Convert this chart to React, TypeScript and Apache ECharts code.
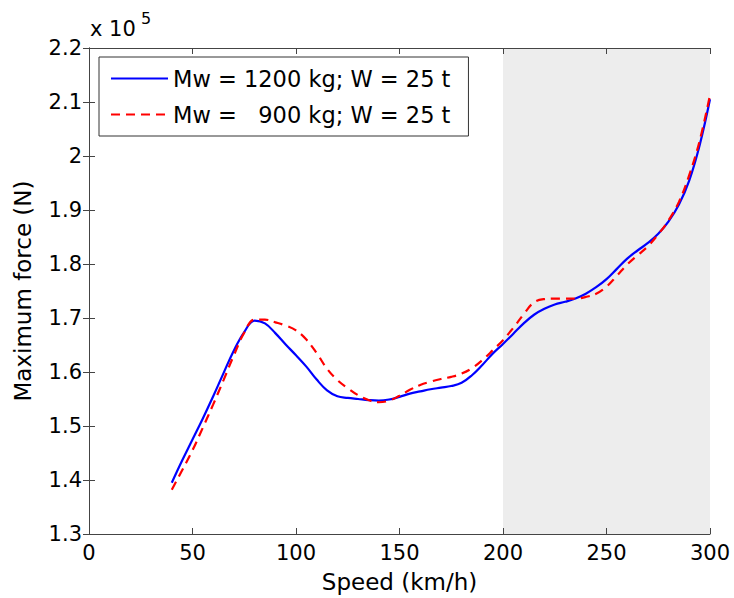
import React, { useEffect, useRef } from "react";
import * as echarts from "echarts";

// Speed (km/h)
const speeds = [40, 45, 50, 55, 60, 65, 70, 75, 80, 85, 90, 95, 100, 105, 110, 115, 120, 125, 130, 135, 140, 145, 150, 155, 160, 165, 170, 175, 180, 185, 190, 195, 200, 205, 210, 215, 220, 225, 230, 235, 240, 245, 250, 255, 260, 265, 270, 275, 280, 285, 290, 295, 300];

// Maximum force (x 10^5 N), Mw = 1200 kg
const force1200 = [1.395, 1.436, 1.475, 1.514, 1.555, 1.598, 1.640, 1.674, 1.695, 1.690, 1.672, 1.651, 1.631, 1.610, 1.586, 1.566, 1.555, 1.552, 1.550, 1.548, 1.547, 1.549, 1.554, 1.560, 1.564, 1.568, 1.571, 1.574, 1.580, 1.594, 1.613, 1.634, 1.652, 1.671, 1.690, 1.706, 1.717, 1.725, 1.730, 1.736, 1.745, 1.757, 1.772, 1.791, 1.810, 1.825, 1.839, 1.856, 1.879, 1.910, 1.955, 2.020, 2.105];

// Maximum force (x 10^5 N), Mw = 900 kg
const force900 = [1.382, 1.418, 1.455, 1.497, 1.540, 1.585, 1.631, 1.673, 1.697, 1.697, 1.692, 1.686, 1.677, 1.660, 1.635, 1.606, 1.585, 1.570, 1.557, 1.548, 1.544, 1.547, 1.556, 1.567, 1.576, 1.582, 1.587, 1.591, 1.597, 1.607, 1.622, 1.640, 1.659, 1.682, 1.707, 1.729, 1.735, 1.736, 1.736, 1.736, 1.739, 1.745, 1.758, 1.778, 1.799, 1.816, 1.833, 1.855, 1.881, 1.915, 1.965, 2.028, 2.113];

const seriesNames = ["Mw = 1200 kg; W = 25 t", "Mw =   900 kg; W = 25 t"];

// Shaded speed band
const shadedBand = [200, 300];

const xMin = 0, xMax = 300, xStep = 50;
const yMin = 1.3, yMax = 2.2, yStep = 0.1;

const FONT = "DejaVu Sans";
const AXIS_COLOR = "#444";

export default function App() {
  const ref = useRef<HTMLDivElement>(null);

  useEffect(() => {
    if (!ref.current) return;
    const chart = echarts.init(ref.current, undefined, { renderer: "svg" });
    const fmtY = (v: number) => String(parseFloat(v.toFixed(1)));
    const baseX = {
      type: "value",
      min: xMin,
      max: xMax,
      interval: xStep,
      z: 5,
      splitLine: { show: false },
      axisLine: { show: true, lineStyle: { color: AXIS_COLOR, width: 1 } },
      axisTick: { show: true, inside: true, length: 6, lineStyle: { color: AXIS_COLOR } },
    };
    const baseY = {
      type: "value",
      min: yMin,
      max: yMax,
      interval: yStep,
      z: 5,
      splitLine: { show: false },
      axisLine: { show: true, lineStyle: { color: AXIS_COLOR, width: 1 } },
      axisTick: { show: true, inside: true, length: 6, lineStyle: { color: AXIS_COLOR } },
    };
    chart.setOption({
      animation: false,
      backgroundColor: "#fff",
      grid: { left: 89, right: 24, top: 48, bottom: 61, containLabel: false },
      xAxis: [
        {
          ...baseX,
          position: "bottom",
          name: "Speed (km/h)",
          nameLocation: "middle",
          nameGap: 36,
          nameTextStyle: { fontFamily: FONT, fontSize: 23, color: "#000" },
          axisLabel: { show: true, margin: 8, fontFamily: FONT, fontSize: 21, color: "#000" },
        },
        { ...baseX, position: "top", axisLabel: { show: false } },
      ],
      yAxis: [
        {
          ...baseY,
          position: "left",
          name: "Maximum force (N)",
          nameLocation: "middle",
          nameGap: 55,
          nameTextStyle: { fontFamily: FONT, fontSize: 23, color: "#000" },
          axisLabel: { show: true, margin: 7, fontFamily: FONT, fontSize: 21, color: "#000", formatter: fmtY },
        },
        { ...baseY, position: "right", axisLabel: { show: false } },
      ],
      legend: {
        data: seriesNames,
        orient: "vertical",
        left: 99,
        top: 57,
        padding: [10, 18, 10, 11],
        itemWidth: 57,
        itemHeight: 22,
        itemGap: 13,
        borderColor: "#333",
        borderWidth: 1,
        borderRadius: 0,
        backgroundColor: "#fff",
        itemStyle: { opacity: 0 },
        textStyle: { fontFamily: FONT, fontSize: 22.5, color: "#000" },
      },
      graphic: [
        {
          type: "text",
          left: 90,
          top: 18,
          style: { text: "x 10", fontFamily: FONT, fontSize: 21, fill: "#000" },
        },
        {
          type: "text",
          left: 141,
          top: 10,
          style: { text: "5", fontFamily: FONT, fontSize: 16, fill: "#000" },
        },
      ],
      series: [
        {
          name: "shade",
          type: "line",
          data: [],
          z: 1,
          silent: true,
          markArea: {
            silent: true,
            itemStyle: { color: "#ededed" },
            data: [[{ xAxis: shadedBand[0] }, { xAxis: shadedBand[1] }]],
          },
        },
        {
          name: seriesNames[0],
          type: "line",
          z: 3,
          symbol: "none",
          smooth: 0.4,
          data: speeds.map((s, i) => [s, force1200[i]]),
          lineStyle: { color: "#0000ff", width: 2.2 },
          itemStyle: { color: "#0000ff" },
        },
        {
          name: seriesNames[1],
          type: "line",
          z: 3,
          symbol: "none",
          smooth: 0.4,
          data: speeds.map((s, i) => [s, force900[i]]),
          lineStyle: { color: "#ff0000", width: 2.2, type: [9, 6] },
          itemStyle: { color: "#ff0000" },
        },
      ],
    });
    return () => chart.dispose();
  }, []);

  return (
    <div
      ref={ref}
      style={{ position: "absolute", left: 0, top: 0, width: 734, height: 598, background: "#fff" }}
    />
  );
}
